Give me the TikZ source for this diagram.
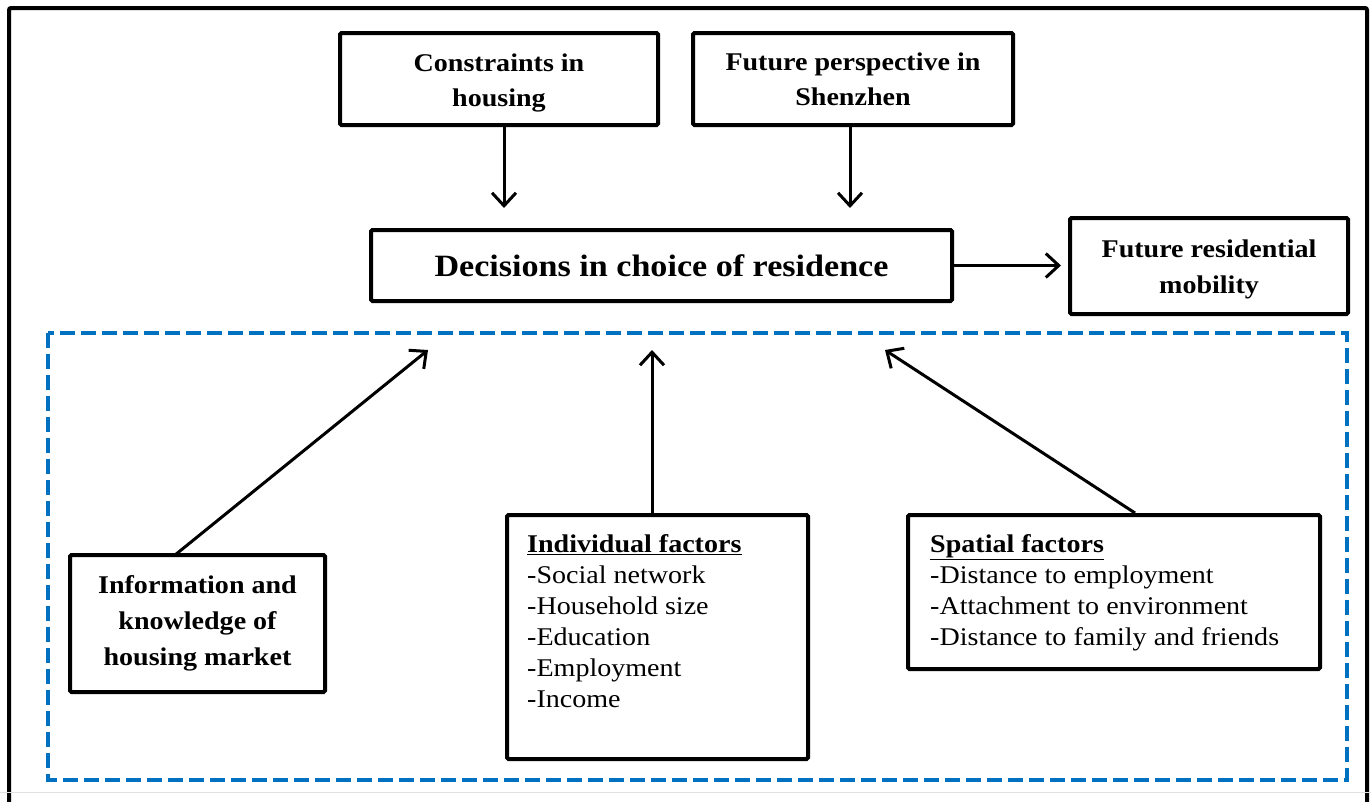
\documentclass[tikz,border=0pt]{standalone}
\usepackage{fontspec}
\setmainfont[FakeStretch=1.1]{Liberation Serif}
\usetikzlibrary{arrows.meta}
\definecolor{dashblue}{HTML}{0070C0}
\tikzset{
  box/.style={draw=black, line width=4pt, rounded corners=1.5pt, inner sep=0pt, align=center},
  boldtxt/.style={font=\bfseries\fontsize{25.5}{35}\selectfont},
  listtxt/.style={font=\fontsize{25.5}{31}\selectfont, align=left, inner sep=0pt, anchor=north west},
  arr/.style={line width=3pt, -{Straight Barb[length=13pt,width=24pt]}}
}
\begin{document}
\begin{tikzpicture}[x=1pt,y=-1pt]
\clip (0,0) rectangle (1371,801);
\fill[white] (0,0) rectangle (1371,801);
% outer frame
\draw[line width=4pt, rounded corners=2pt] (9,8) rectangle (1367,840);
\draw[line width=1pt, black!12] (0,792) -- (1371,792);
% dashed region
\draw[dashblue, line width=4pt, dash pattern=on 15pt off 6pt] (48,333) rectangle (1347,780);

% top boxes
\node[box, boldtxt, minimum width=318, minimum height=92] (cons) at (499,79) {\rule{0pt}{25pt}Constraints in\\housing};
\node[box, boldtxt, minimum width=320, minimum height=92] (fut) at (853,79) {\rule{0pt}{19pt}Future perspective in\\Shenzhen};
\node[box, font=\bfseries\fontsize{31}{36}\selectfont, minimum width=581, minimum height=71] (dec) at (661.5,265.5) {Decisions in choice of residence};
\node[box, font=\bfseries\fontsize{25.5}{36}\selectfont, minimum width=278, minimum height=96] (mob) at (1209,266) {\rule{0pt}{25pt}Future residential\\mobility};

% bottom boxes
\node[box, font=\bfseries\fontsize{25.5}{36}\selectfont, minimum width=255, minimum height=137] (info) at (197.5,623.5) {Information and\\knowledge of\\housing market};
\node[box, minimum width=301, minimum height=244, anchor=north west] (ind) at (505,513) {};
\node[listtxt] (indtxt) at (527,534) {\textbf{\underline{Individual factors}}\\-Social network\\-Household size\\-Education\\-Employment\\-Income};
\node[box, minimum width=412, minimum height=154, anchor=north west] (spa) at (906,513) {};
\node[listtxt] (spatxt) at (930,534) {\textbf{\underline{Spatial factors}}\\-Distance to employment\\-Attachment to environment\\-Distance to family and friends};

% arrow targets
\coordinate (ca) at (504,208);
\coordinate (fa) at (850,208);
\coordinate (ia) at (428,350);
\coordinate (da) at (652,350);
\coordinate (sa) at (885,350);
\coordinate (is) at (175,555);
\coordinate (ss) at (1135,513);

\draw[arr] (cons.south -| ca) -- (ca);
\draw[arr] (fut.south -| fa) -- (fa);
\draw[arr, shorten >=7pt] (dec.east) -- (dec.east -| mob.west);
\draw[arr] (is) -- (ia);
\draw[arr] (ind.north -| da) -- (da);
\draw[arr] (ss) -- (sa);
\end{tikzpicture}
\end{document}
